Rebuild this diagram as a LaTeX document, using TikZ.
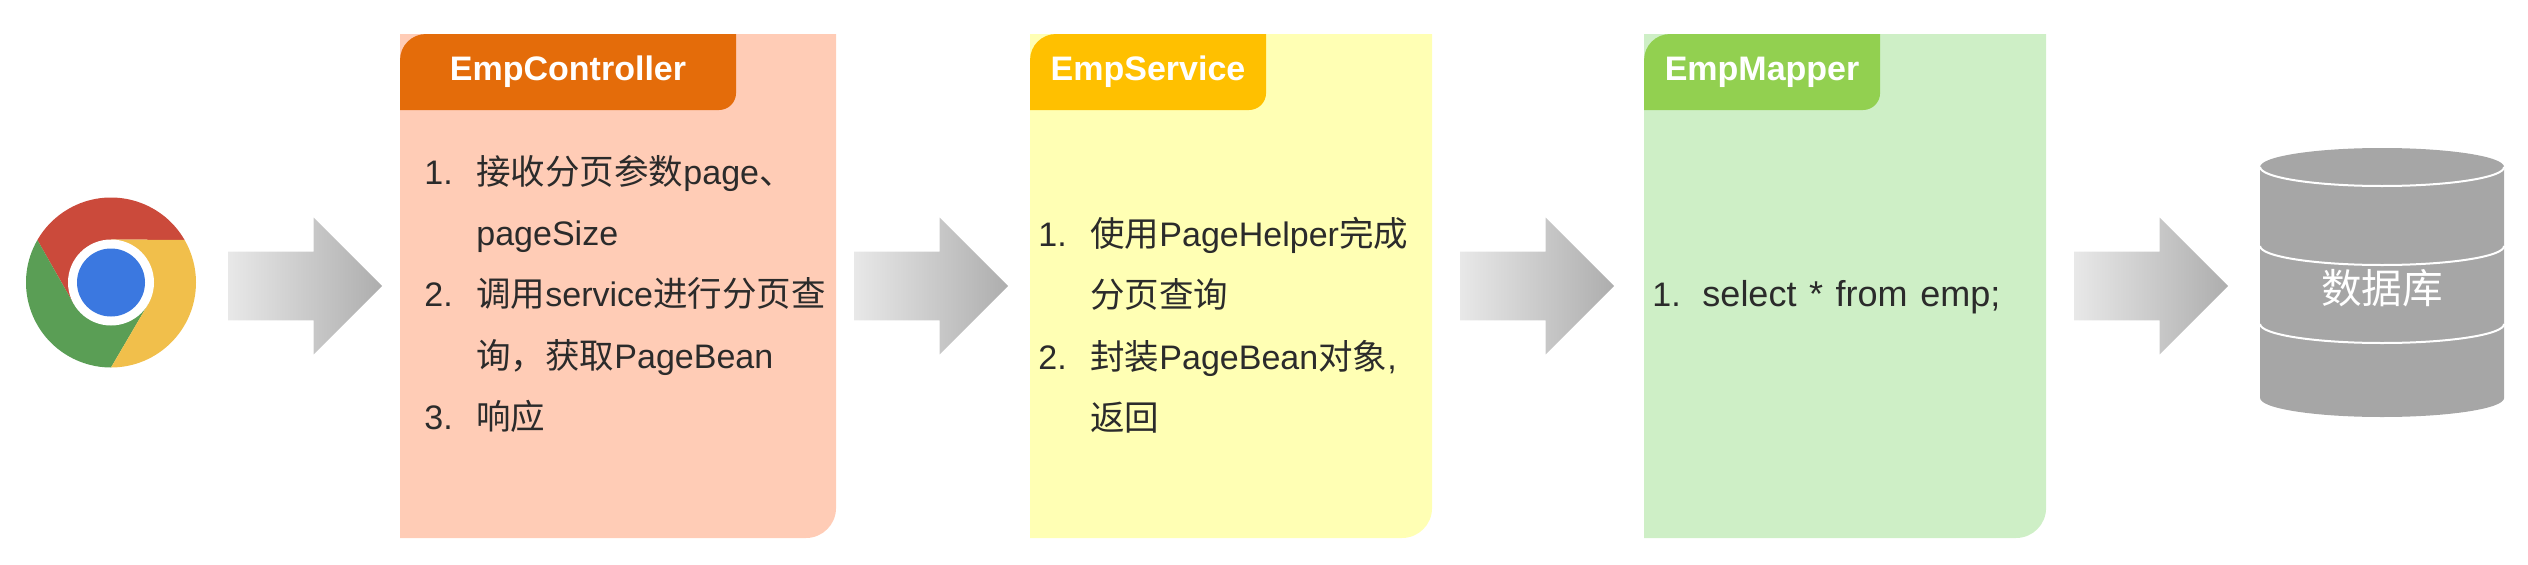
\documentclass[tikz,border=0pt]{standalone}
\usepackage{fontspec}
\setmainfont{Liberation Sans}
\newfontfamily\cjk[Scale=1.015]{Noto Sans CJK SC}
\usetikzlibrary{positioning,shapes.arrows,backgrounds}

\definecolor{ctrlbody}{HTML}{FFCCB6}
\definecolor{ctrlhead}{HTML}{E46C0A}
\definecolor{svcbody}{HTML}{FFFFB4}
\definecolor{svchead}{HTML}{FFC000}
\definecolor{mapbody}{HTML}{CEEFC6}
\definecolor{maphead}{HTML}{92D050}
\definecolor{listink}{HTML}{2B2B2B}
\definecolor{dbgray}{HTML}{A6A6A6}
\definecolor{iconred}{HTML}{CB4A3B}
\definecolor{icongreen}{HTML}{5A9E55}
\definecolor{iconyellow}{HTML}{F1BF4B}
\definecolor{iconblue}{HTML}{3B78E0}

\newcommand{\zh}[1]{{\cjk #1}}
\newcommand{\listno}[1]{\makebox[26pt][l]{#1}}

% body and tab of a card, behind its nodes
\newcommand{\cardback}[4]{
\fill[#2] (#1.north west) -- (#1.north east) [rounded corners=15pt] -- (#1.south east) [sharp corners] -- (#1.south west) -- cycle;
\fill[#4] (#3.south west) [rounded corners=13pt] -- (#3.north west) [sharp corners] -- (#3.north east) [rounded corners=8.5pt] -- (#3.south east) [sharp corners] -- cycle;
}
% one ring segment of the browser icon
\newcommand{\chromeslice}[2]{
\fill[#2] (chrome.center) ++(#1:42.5pt) arc[radius=42.5pt,start angle=#1,delta angle=120] -- ([shift={(#1+180:21.5pt)}]chrome.center) -- (chrome.center) -- ([shift={(#1+60:21.5pt)}]chrome.center) -- cycle;
}

\tikzset{
flowarrow/.style={single arrow,minimum height=77pt,minimum width=68pt,single arrow head extend=17pt,
  text height=34pt,text depth=0pt,inner sep=0pt,outer sep=0pt,left color=black!9,right color=black!32},
cardbox/.style={minimum height=252pt,inner sep=0pt,outer sep=0pt},
headbox/.style={minimum height=38pt,inner sep=0pt,outer sep=0pt,text=white,font=\fontsize{17}{20}\selectfont\bfseries},
listtext/.style={inner sep=0pt,align=left,text=listink,font=\fontsize{17}{30.6}\selectfont},
}

\begin{document}
\begin{tikzpicture}

\useasboundingbox (0,0) rectangle (1264pt,282pt);

\node [circle,minimum size=85pt,inner sep=0pt,outer sep=0pt] (chrome) at (55.5pt,140.75pt){};
\node[flowarrow,right = 16pt of chrome,yshift=-1.75pt](arrowa){};

\node[cardbox,minimum width=218pt,right = 9pt of arrowa](ctrl){};
\node[flowarrow,right = 9pt of ctrl](arrowb){};
\node[cardbox,minimum width=201pt,right = 11pt of arrowb](svc){};
\node[flowarrow,right = 14pt of svc](arrowc){};
\node[cardbox,minimum width=201pt,right = 15pt of arrowc](map){};
\node[flowarrow,right = 14pt of map](arrowd){};

\node[minimum width=122pt,minimum height=134.5pt,inner sep=0pt,outer sep=0pt,right = 16pt of arrowd,yshift=1.75pt](db){};
\node[text=white,inner sep=0pt,font=\fontsize{20}{22}\selectfont] (dblabel) at ([yshift=-3pt]db.center){\zh{数据库}};

\node[headbox,minimum width=168pt,below right = 0pt and 0pt of ctrl.north west](ctrltab){EmpController};
\node[headbox,minimum width=118pt,below right = 0pt and 0pt of svc.north west](svctab){EmpService};
\node[headbox,minimum width=118pt,below right = 0pt and 0pt of map.north west](maptab){EmpMapper};

\node[listtext,below right = 60.5pt and 12pt of ctrl.north west](ctrllist){%
\listno{1.}\zh{接收分页参数}page\zh{、}\\
\listno{}pageSize\\
\listno{2.}\zh{调用}service\zh{进行分页查}\\
\listno{}\zh{询，获取}PageBean\\
\listno{3.}\zh{响应}};
\node[listtext,below right = 91.5pt and 4pt of svc.north west](svclist){%
\listno{1.}\zh{使用}PageHelper\zh{完成}\\
\listno{}\zh{分页查询}\\
\listno{2.}\zh{封装}PageBean\zh{对象},\\
\listno{}\zh{返回}};
\node[listtext,font=\fontsize{18}{30.6}\selectfont,below right = 123pt and 4pt of map.north west](maplist){%
\spaceskip=6.3pt\makebox[25pt][l]{\fontsize{17}{30.6}\selectfont 1.}select * from emp;};

\begin{pgfonlayer}{background}
\cardback{ctrl}{ctrlbody}{ctrltab}{ctrlhead}
\cardback{svc}{svcbody}{svctab}{svchead}
\cardback{map}{mapbody}{maptab}{maphead}

%browser icon
\chromeslice{30}{iconred}
\chromeslice{150}{icongreen}
\chromeslice{270}{iconyellow}
\fill[white] (chrome.center) circle (21.5pt);
\fill[iconblue] (chrome.center) circle (17pt);

%database
\fill[dbgray] ([yshift=-9.5pt]db.north west) arc[x radius=61pt,y radius=9.5pt,start angle=180,end angle=0]
  -- ([yshift=9.5pt]db.south east) arc[x radius=61pt,y radius=9.5pt,start angle=360,end angle=180] -- cycle;
\draw[white,line width=1pt] ([yshift=-9.5pt]db.north west) arc[x radius=61pt,y radius=9.5pt,start angle=180,end angle=360];
\draw[white,line width=1pt] ([yshift=-49pt]db.north west) arc[x radius=61pt,y radius=9.5pt,start angle=180,end angle=360];
\draw[white,line width=1pt] ([yshift=-88pt]db.north west) arc[x radius=61pt,y radius=9.5pt,start angle=180,end angle=360];
\end{pgfonlayer}

\end{tikzpicture}
\end{document}
